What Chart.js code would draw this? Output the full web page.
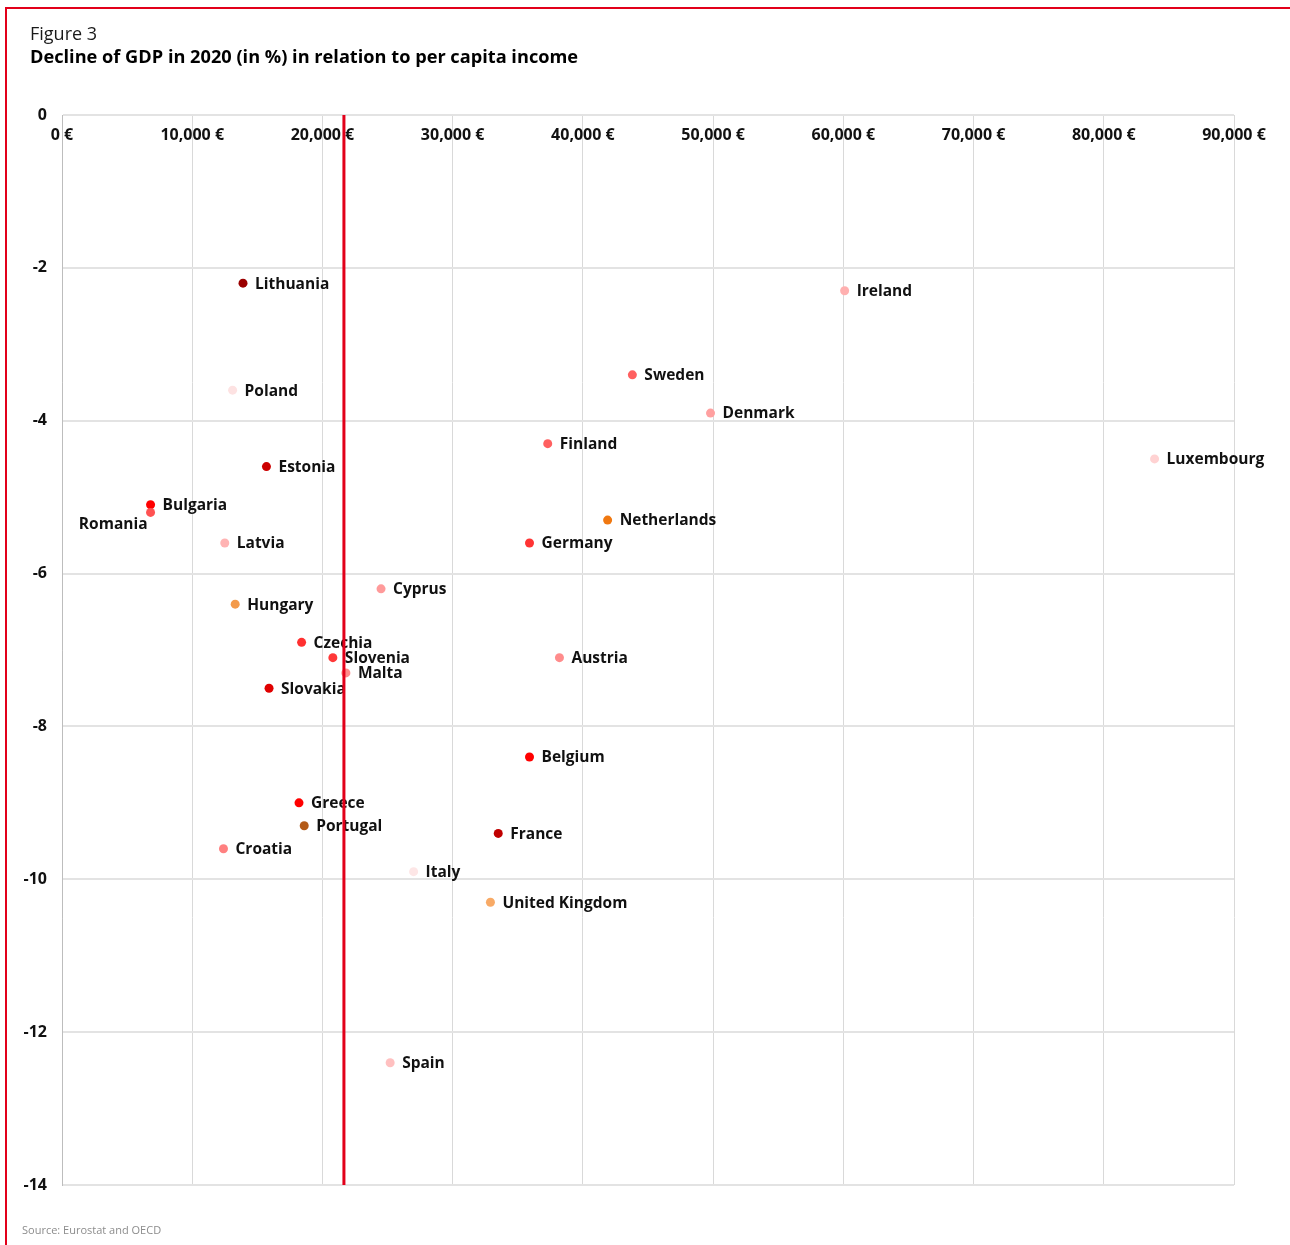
<!DOCTYPE html>
<html lang="en">
<head>
    <meta charset="UTF-8">
    <title>Decline of GDP in 2020</title>
    <style>
        body {
            margin: 0;
            padding: 0;
            background: #ffffff;
            font-family: "Open Sans", Arial, sans-serif;
        }

        .page {
            position: relative;
            width: 1290px;
            height: 1245px;
            overflow: hidden;
        }

        .frame {
            position: absolute;
            left: 5px;
            top: 7px;
            width: 1290px;
            height: 1245px;
            border-top: 2px solid #e2001a;
            border-left: 2px solid #e2001a;
        }

        .fig-no {
            position: absolute;
            left: 30px;
            top: 21px;
            font-size: 18px;
            color: #1a1a1a;
        }

        .fig-title {
            position: absolute;
            left: 30px;
            top: 44px;
            font-size: 18.2px;
            font-weight: bold;
            color: #000;
        }

        .source {
            position: absolute;
            left: 22px;
            top: 1222px;
            font-size: 11px;
            color: #8c8c8c;
        }

        canvas {
            position: absolute;
            left: 0;
            top: 0;
        }
    </style>
    <script src="https://cdn.jsdelivr.net/npm/chart.js"></script>
</head>
<body>
    <div class="page">
        <canvas id="myChart" width="1290" height="1245"></canvas>
        <div class="frame"></div>
        <div class="fig-no">Figure 3</div>
        <div class="fig-title">Decline of GDP in 2020 (in %) in relation to per capita income</div>
        <div class="source">Source: Eurostat and OECD</div>
    </div>

    <script>
        // per capita income (EUR) and GDP change 2020 (%)
        const countries = ['Lithuania', 'Poland', 'Estonia', 'Bulgaria', 'Romania', 'Latvia', 'Hungary',
            'Czechia', 'Slovenia', 'Malta', 'Slovakia', 'Greece', 'Portugal', 'Croatia', 'Italy', 'Spain',
            'Cyprus', 'United Kingdom', 'France', 'Belgium', 'Austria', 'Germany', 'Netherlands',
            'Finland', 'Sweden', 'Denmark', 'Ireland', 'Luxembourg'];
        const income = [13900, 13100, 15700, 6800, 6800, 12500, 13300,
            18400, 20800, 21800, 15900, 18200, 18600, 12400, 27000, 25200,
            24500, 32900, 33500, 35900, 38200, 35900, 41900,
            37300, 43800, 49800, 60100, 83900];
        const gdpChange = [-2.2, -3.6, -4.6, -5.1, -5.2, -5.6, -6.4,
            -6.9, -7.1, -7.3, -7.5, -9.0, -9.3, -9.6, -9.9, -12.4,
            -6.2, -10.3, -9.4, -8.4, -7.1, -5.6, -5.3,
            -4.3, -3.4, -3.9, -2.3, -4.5];
        const euAverageIncome = 21650;
        const xTicks = [0, 10000, 20000, 30000, 40000, 50000, 60000, 70000, 80000, 90000];

        const dotColors = ['#9b0000', '#fde2e2', '#cc0000', '#ff0000', '#ff5252', '#ffb3b3', '#f39a4a',
            '#ff3030', '#ff3838', '#ff8a8a', '#e00000', '#ff0000', '#b35a18', '#ff8080', '#fde6e6', '#ffc0c0',
            '#ff9a9a', '#f8aa66', '#c00000', '#ff0000', '#ff8c8c', '#ff3434', '#f07810',
            '#ff6060', '#ff6060', '#ffa0a0', '#ffb0b0', '#ffd2d2'];

        const points = income.map((v, i) => ({ x: v, y: gdpChange[i] }));

        // labels next to the dots, drawn before the red line so it crosses them
        const labelTweaks = { 'Romania': { dx: -3, dy: 12, align: 'right' } };
        const pointLabels = {
            id: 'pointLabels',
            afterDatasetDraw(chart, args) {
                if (args.index !== 1) return;
                const ctx = chart.ctx;
                ctx.save();
                ctx.font = 'bold 15.5px "Open Sans", Arial, sans-serif';
                ctx.fillStyle = '#111';
                ctx.textBaseline = 'middle';
                args.meta.data.forEach((el, i) => {
                    const t = labelTweaks[countries[i]];
                    if (t) {
                        ctx.textAlign = t.align;
                        ctx.fillText(countries[i], el.x + t.dx, el.y + t.dy);
                    } else {
                        ctx.textAlign = 'left';
                        ctx.fillText(countries[i], el.x + 12, el.y + 1);
                    }
                });
                ctx.restore();
            }
        };

        const ctx = document.getElementById('myChart').getContext('2d');
        const myChart = new Chart(ctx, {
            type: 'scatter',
            data: {
                datasets: [{
                    type: 'line',
                    label: 'EU average',
                    data: [{ x: euAverageIncome, y: 0 }, { x: euAverageIncome, y: -14 }],
                    borderColor: '#e2001a',
                    borderWidth: 3,
                    pointRadius: 0,
                    order: 0
                }, {
                    label: 'Countries',
                    data: points,
                    pointBackgroundColor: dotColors,
                    pointBorderWidth: 0,
                    pointRadius: 4.5,
                    order: 1
                }]
            },
            options: {
                responsive: false,
                animation: false,
                layout: {
                    padding: { top: 115, right: 56, bottom: 60, left: 0 }
                },
                plugins: {
                    legend: { display: false },
                    tooltip: { enabled: false }
                },
                scales: {
                    x: {
                        type: 'linear',
                        position: { y: 0 },
                        min: 0,
                        max: 90000,
                        afterBuildTicks: s => { s.ticks = xTicks.map(v => ({ value: v })); },
                        grid: { color: '#d9d9d9', lineWidth: 1, drawTicks: false },
                        border: { display: false },
                        ticks: {
                            padding: 11,
                            color: '#111',
                            font: { family: '"Open Sans", Arial, sans-serif', size: 16, weight: 'bold' },
                            callback: v => v.toLocaleString('en-US') + ' €'
                        }
                    },
                    y: {
                        min: -14,
                        max: 0,
                        afterFit: s => { s.width = 62; },
                        grid: { color: '#e3e3e3', lineWidth: 2, drawTicks: false },
                        border: { color: '#bdbdbd', width: 1 },
                        ticks: {
                            stepSize: 2,
                            padding: 15,
                            color: '#111',
                            font: { family: '"Open Sans", Arial, sans-serif', size: 16, weight: 'bold' }
                        }
                    }
                }
            },
            plugins: [pointLabels]
        });
    </script>
</body>
</html>
